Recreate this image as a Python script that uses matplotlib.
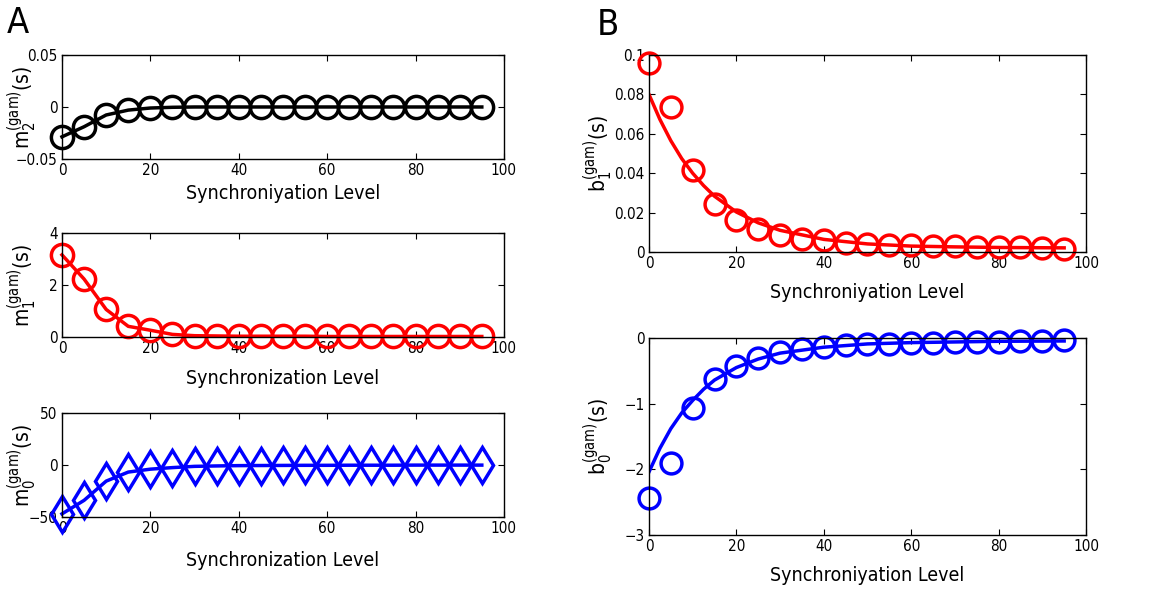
import matplotlib
matplotlib.use("Agg")
import matplotlib.pyplot as plt
from matplotlib.ticker import FuncFormatter

plt.rcParams['font.family'] = ['DejaVu Sans']
plt.rcParams['font.stretch'] = 'condensed'
plt.rcParams['mathtext.fontset'] = 'custom'
plt.rcParams['mathtext.rm'] = 'DejaVu Sans:stretch=condensed'
plt.rcParams['mathtext.it'] = 'DejaVu Sans:stretch=condensed'
plt.rcParams['axes.unicode_minus'] = True

# === Data ===
sync = [0, 5, 10, 15, 20, 25, 30, 35, 40, 45, 50, 55, 60, 65, 70, 75, 80, 85, 90, 95]

m2 = [-0.0287, -0.019, -0.0077, -0.003, -0.001, -0.0003, 0, 0, 0, 0,
      0, 0, 0, 0, 0, 0, 0, 0, 0, 0]
m1 = [3.16, 2.23, 1.06, 0.41, 0.26, 0.10, 0.05, 0.04, 0.03, 0.03,
      0.03, 0.03, 0.02, 0.02, 0.02, 0.02, 0.02, 0.02, 0.02, 0.02]
m0 = [-47, -34, -15.5, -6.8, -4.0, -2.5, -1.3, -0.9, -0.6, -0.5,
      -0.4, -0.3, -0.3, -0.2, -0.2, -0.2, -0.1, -0.1, -0.1, -0.1]

b1 = [0.0958, 0.0737, 0.0415, 0.0242, 0.0164, 0.0119, 0.0088, 0.0068, 0.0059, 0.0047,
      0.0042, 0.0037, 0.0034, 0.0030, 0.0029, 0.0027, 0.0024, 0.0024, 0.0020, 0.0017]
b0 = [-2.43, -1.90, -1.07, -0.63, -0.43, -0.31, -0.22, -0.16, -0.14, -0.11,
      -0.09, -0.086, -0.08, -0.075, -0.066, -0.066, -0.056, -0.05, -0.04, -0.035]

# fitted curves
fit_x = [0, 2.5, 5, 7.5, 10, 12.5, 15, 20, 25, 30, 40, 50, 60, 70, 80, 95]
b1_fit = [0.080, 0.0673, 0.0565, 0.0474, 0.0400, 0.0337, 0.0283, 0.0203, 0.0148, 0.0110,
          0.0064, 0.0041, 0.0030, 0.0026, 0.0023, 0.0021]
b0_fit = [-2.04, -1.68, -1.38, -1.14, -0.95, -0.78, -0.64, -0.45, -0.32, -0.23,
          -0.14, -0.09, -0.07, -0.06, -0.05, -0.045]

fig = plt.figure(figsize=(11.67, 5.99), dpi=100)

fmt = FuncFormatter(lambda v, p: ('%g' % v).replace('-', '\u2212'))


def style(ax, xlabel, ylabel, yticks, ylim, xpad, ylx=-0.052):
    ax.set_xlim(0, 100)
    ax.set_ylim(*ylim)
    ax.set_xticks([0, 20, 40, 60, 80, 100])
    ax.set_yticks(yticks)
    ax.yaxis.set_major_formatter(fmt)
    ax.tick_params(direction='in', top=True, right=True, labelsize=11, length=4, pad=3)
    ax.set_xlabel(xlabel, fontsize=14, labelpad=xpad)
    ax.set_ylabel(ylabel, fontsize=15)
    ax.yaxis.set_label_coords(ylx, 0.5)
    for s in ax.spines.values():
        s.set_linewidth(1.0)


mk = dict(markersize=16, markeredgewidth=2.5, markerfacecolor='none', linewidth=2.5)

# --- panel A ---
ax1 = fig.add_axes([0.0531, 0.7346, 0.3787, 0.1736])
ax1.plot(sync, m2, 'o-', color='black', clip_on=False, **mk)
style(ax1, 'Synchroniyation Level', r'$\mathrm{m}_2^{\mathrm{(gam)}}\mathrm{(s)}$',
      [-0.05, 0, 0.05], (-0.05, 0.05), 4)

ax2 = fig.add_axes([0.0531, 0.4374, 0.3787, 0.1736])
ax2.plot(sync, m1, 'o-', color='red', clip_on=False, **mk)
style(ax2, 'Synchronization Level', r'$\mathrm{m}_1^{\mathrm{(gam)}}\mathrm{(s)}$',
      [0, 2, 4], (0, 4), 9)

ax3 = fig.add_axes([0.0531, 0.1369, 0.3787, 0.1736])
ax3.plot(sync, m0, 'd-', color='blue', clip_on=False,
         markersize=18, markeredgewidth=2.5, markerfacecolor='none', linewidth=2.5)
style(ax3, 'Synchronization Level', r'$\mathrm{m}_0^{\mathrm{(gam)}}\mathrm{(s)}$',
      [-50, 0, 50], (-50, 50), 11)

# --- panel B ---
ax4 = fig.add_axes([0.5561, 0.5793, 0.3745, 0.3289])
ax4.plot(sync, b1, 'o', color='red', clip_on=False,
         markersize=15, markeredgewidth=2.5, markerfacecolor='none')
ax4.plot(fit_x, b1_fit, '-', color='red', linewidth=2.5)
style(ax4, 'Synchroniyation Level', r'$\mathrm{b}_1^{\mathrm{(gam)}}\mathrm{(s)}$',
      [0, 0.02, 0.04, 0.06, 0.08, 0.1], (0, 0.1), 8.5, -0.078)

ax5 = fig.add_axes([0.5561, 0.1068, 0.3745, 0.3289])
ax5.plot(sync, b0, 'o', color='blue', clip_on=False,
         markersize=15, markeredgewidth=2.5, markerfacecolor='none')
ax5.plot(fit_x, b0_fit, '-', color='blue', linewidth=2.5)
style(ax5, 'Synchroniyation Level', r'$\mathrm{b}_0^{\mathrm{(gam)}}\mathrm{(s)}$',
      [-3, -2, -1, 0], (-3, 0), 8.5, -0.078)

fig.text(0.006, 0.962, 'A', fontsize=26, va='center', ha='left')
fig.text(0.511, 0.958, 'B', fontsize=26, va='center', ha='left')

fig.savefig('out.png', dpi=100)
